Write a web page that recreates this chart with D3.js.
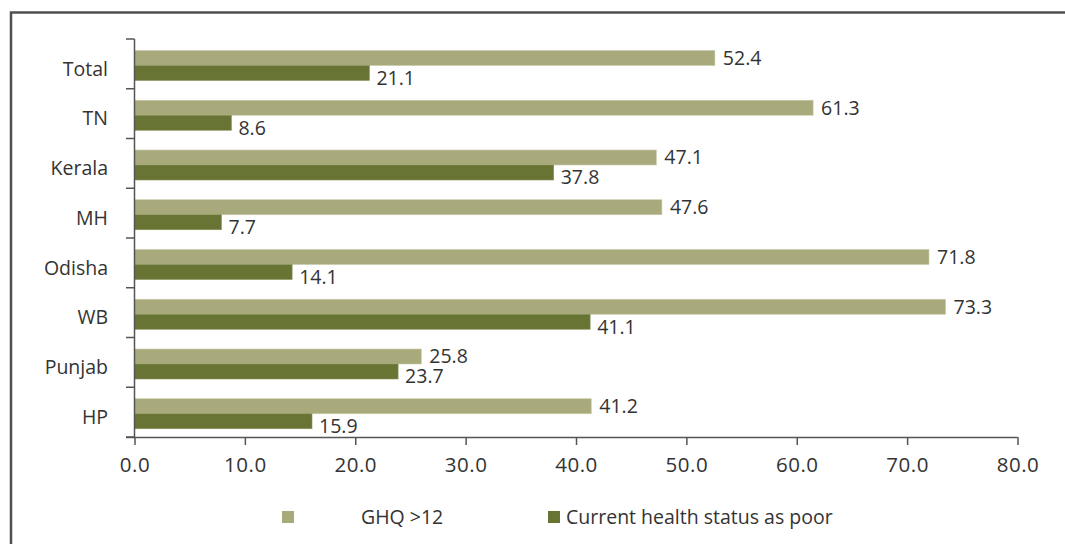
<!DOCTYPE html>
<html><head><meta charset="utf-8">
<script src="https://cdn.jsdelivr.net/npm/d3@7"></script>
<style>body{margin:0;background:#fff;} text{font-family:"Open Sans",sans-serif;fill:#333;}</style>
</head><body>
<svg id="c" width="1065" height="544"></svg>
<script>
const categories = ["Total","TN","Kerala","MH","Odisha","WB","Punjab","HP"];
const ghq = [52.4,61.3,47.1,47.6,71.8,73.3,25.8,41.2];
const poor = [21.1,8.6,37.8,7.7,14.1,41.1,23.7,15.9];
const xTicks = [0,10,20,30,40,50,60,70,80];
const seriesNames = ["GHQ >12","Current health status as poor"];
const colors = ["#a9aa7c","#687433"];

const svg = d3.select("#c");
// frame
svg.append("path").attr("d","M11,544V12.5H1065").attr("fill","none").attr("stroke","#505050").attr("stroke-width",2.5);

const x = d3.scaleLinear().domain([0,80]).range([134.5,1017.5]);
const y = d3.scaleBand().domain(categories).range([39,437]);
const bh = 15;
const fs = 19.5;

const g = svg.append("g");
categories.forEach((c,i)=>{
  const y0 = y(c)+11.5;
  g.append("rect").attr("x",x(0)).attr("y",y0).attr("width",x(ghq[i])-x(0)+2).attr("height",bh)
   .attr("fill",colors[0]).attr("stroke","#c8c9a8").attr("stroke-width",0.6);
  g.append("rect").attr("x",x(0)).attr("y",y0+bh).attr("width",x(poor[i])-x(0)+2).attr("height",bh)
   .attr("fill",colors[1]).attr("stroke","#8a9360").attr("stroke-width",0.6);
  g.append("text").attr("x",x(ghq[i])+10).attr("y",y0+bh/2).attr("dy","0.35em").attr("font-size",fs).text(ghq[i].toFixed(1));
  g.append("text").attr("x",x(poor[i])+9).attr("y",y0+bh*1.5+5).attr("dy","0.35em").attr("font-size",fs).text(poor[i].toFixed(1));
});

// y axis
const ax = svg.append("g").attr("stroke","#555").attr("stroke-width",1.5);
ax.append("line").attr("x1",x(0)).attr("x2",x(0)).attr("y1",39).attr("y2",437);
categories.concat(["_end"]).forEach((c,i)=>{
  const yy = i<categories.length ? y(c) : 437;
  ax.append("line").attr("x1",126).attr("x2",x(0)).attr("y1",yy).attr("y2",yy);
});
svg.selectAll(".cl").data(categories).enter().append("text")
  .attr("x",108).attr("y",d=>y(d)+y.bandwidth()/2+5).attr("dy","0.35em").attr("text-anchor","end")
  .attr("font-size",fs).text(d=>d);

// x axis
const xa = svg.append("g").attr("transform","translate(0,437)").call(d3.axisBottom(x).tickValues(xTicks).tickSize(8).tickFormat(d3.format(".1f")));
xa.select(".domain").attr("stroke","#555").attr("stroke-width",1.5).attr("d","M126,0.5H"+x(80));
xa.selectAll(".tick line").attr("stroke","#555").attr("stroke-width",1.5);
xa.selectAll(".tick text").attr("font-size",20.5).attr("font-family","Open Sans").attr("fill","#333").attr("y",28).attr("dy","0.35em").attr("letter-spacing","0.5px");

// legend
const lg = svg.append("g");
lg.append("rect").attr("x",282).attr("y",511).attr("width",12).attr("height",12).attr("fill",colors[0]);
lg.append("text").attr("x",361).attr("y",517).attr("dy","0.35em").attr("font-size",fs).text(seriesNames[0]);
lg.append("rect").attr("x",548).attr("y",511).attr("width",12).attr("height",12).attr("fill",colors[1]);
lg.append("text").attr("x",566).attr("y",517).attr("dy","0.35em").attr("font-size",fs).text(seriesNames[1]);
</script>
</body></html>
